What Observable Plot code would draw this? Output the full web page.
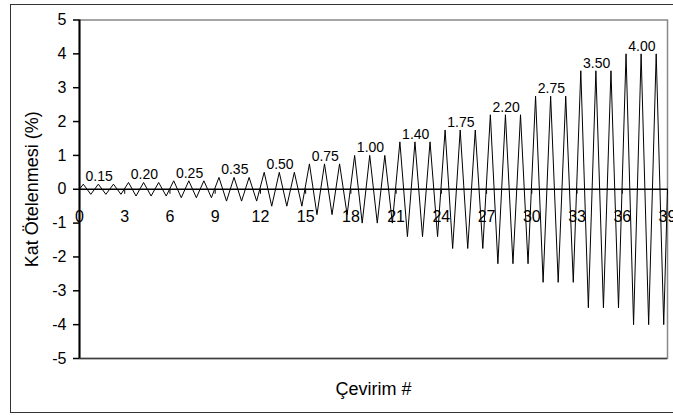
<!DOCTYPE html>
<html>
<head>
<meta charset="utf-8">
<script src="https://cdn.jsdelivr.net/npm/d3@7"></script>
<script src="https://cdn.jsdelivr.net/npm/@observablehq/plot@0.6"></script>
<style>
  html, body { margin: 0; padding: 0; background: #fff; overflow: hidden; }
  #wrap { position: relative; width: 673px; height: 415px; }
  #border { position: absolute; left: 10px; top: 4px; width: 700px; height: 409px; border: 1.5px solid #333; box-sizing: border-box; pointer-events: none; }
  #chart { position: absolute; left: 0; top: 0; }
</style>
</head>
<body>
<div id="wrap"><div id="border"></div><div id="chart"></div></div>
<script>
// Drift amplitude (%) for each group of 3 cycles
const amplitudes = [0.15, 0.20, 0.25, 0.35, 0.50, 0.75, 1.00, 1.40, 1.75, 2.20, 2.75, 3.50, 4.00];
const cyclesPerGroup = 3;
const amplitudeLabels = ["0.15", "0.20", "0.25", "0.35", "0.50", "0.75", "1.00", "1.40", "1.75", "2.20", "2.75", "3.50", "4.00"];
const xTicks = [0, 3, 6, 9, 12, 15, 18, 21, 24, 27, 30, 33, 36, 39];
const yTicks = [-5, -4, -3, -2, -1, 0, 1, 2, 3, 4, 5];

// Build the loading history: each cycle peaks at +A then -A
const wave = [{x: 0, y: 0}];
amplitudes.forEach((a, g) => {
  for (let c = 0; c < cyclesPerGroup; c++) {
    const k = g * cyclesPerGroup + c;
    wave.push({x: k + 0.25, y: a});
    wave.push({x: k + 0.75, y: -a});
  }
});
wave.push({x: amplitudes.length * cyclesPerGroup, y: 0});

const labels = amplitudeLabels.map((t, g) => ({x: g * cyclesPerGroup + 1.3, y: amplitudes[g], t}));

const chart = Plot.plot({
  width: 673,
  height: 415,
  marginLeft: 79,
  marginRight: 6,
  marginTop: 19.5,
  marginBottom: 57,
  x: {domain: [0, 39], axis: null},
  y: {domain: [-5, 5], axis: null},
  style: {fontFamily: "'Liberation Sans', Arial, sans-serif", background: "transparent", color: "black"},
  marks: [
    Plot.frame({stroke: "#888", strokeWidth: 1.5}),
    Plot.ruleY([-5], {stroke: "#404040", strokeWidth: 1.5}),
    Plot.axisY({ticks: yTicks, tickSize: 6, tickPadding: 7, fontSize: 16, tickFormat: d => String(d), label: null, stroke: "black", strokeWidth: 1.5}),
    Plot.text(xTicks, {x: d => d, y: 0, text: d => String(d), dy: 21, lineAnchor: "top", fontSize: 16, fill: "black"}),
    Plot.ruleY([0], {stroke: "black", strokeWidth: 1.5}),
    Plot.ruleX(xTicks, {x: d => d, y1: 0, y2: 0, insetBottom: -5, stroke: "black", strokeWidth: 1}),
    Plot.line(wave, {x: "x", y: "y", stroke: "black", strokeWidth: 1}),
    Plot.ruleX([0], {stroke: "black", strokeWidth: 2}),
    Plot.text(labels, {x: "x", y: "y", text: "t", lineAnchor: "bottom", dy: -3, fontSize: 14, fill: "black"}),
    Plot.text(["Kat Ötelenmesi (%)"], {frameAnchor: "left", dx: -47, rotate: -90, textAnchor: "middle", lineAnchor: "middle", fontSize: 18, fill: "black"}),
    Plot.text(["Çevirim #"], {frameAnchor: "bottom", dy: 31, textAnchor: "middle", lineAnchor: "middle", fontSize: 18, fill: "black"})
  ]
});
document.getElementById("chart").appendChild(chart);
</script>
</body>
</html>
